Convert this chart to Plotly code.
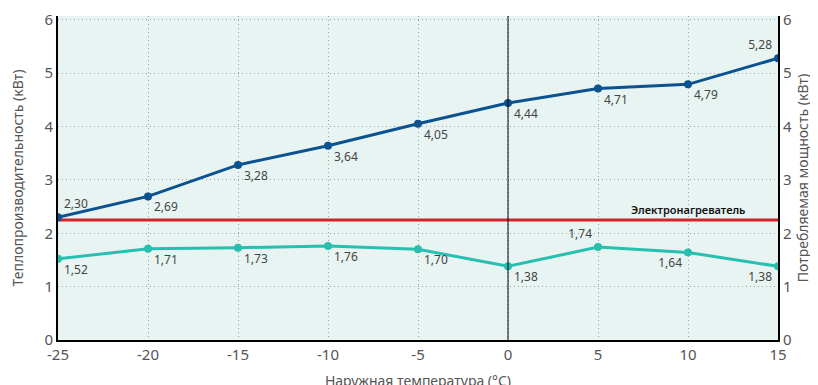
import plotly.graph_objects as go

# Данные
temps = [-25, -20, -15, -10, -5, 0, 5, 10, 15]
temp_labels = ['-25', '-20', '-15', '-10', '-5', '0', '5', '10', '15']
heat_output = [2.30, 2.69, 3.28, 3.64, 4.05, 4.44, 4.71, 4.79, 5.28]
power_input = [1.52, 1.71, 1.73, 1.76, 1.70, 1.38, 1.74, 1.64, 1.38]
heater_level = 2.25

heat_pos = ['top right'] + ['bottom right'] * 7 + ['top left']
power_pos = ['bottom right'] * 6 + ['top left', 'bottom left', 'bottom left']

BLUE = '#0b5290'
TEAL = '#26bfb0'
RED = '#d0232b'
FONT = 'Noto Sans'
GRID = dict(showgrid=True, gridcolor='#a0a0a0', griddash='1px,3px', gridwidth=1)


def fmt(vals):
    return [f'{v:.2f}'.replace('.', ',') for v in vals]


fig = go.Figure()

fig.add_trace(go.Scatter(
    x=[temps[0], temps[-1]], y=[heater_level, heater_level], mode='lines',
    line=dict(color=RED, width=3), hoverinfo='skip', showlegend=False
))
fig.add_trace(go.Scatter(
    x=temps, y=heat_output, mode='lines+markers+text',
    line=dict(color=BLUE, width=3), marker=dict(size=8, color=BLUE),
    text=fmt(heat_output), textposition=heat_pos,
    textfont=dict(size=12, color='#444', family=FONT), showlegend=False
))
fig.add_trace(go.Scatter(
    x=temps, y=power_input, mode='lines+markers+text', yaxis='y2',
    line=dict(color=TEAL, width=3), marker=dict(size=8, color=TEAL),
    text=fmt(power_input), textposition=power_pos,
    textfont=dict(size=12, color='#444', family=FONT), showlegend=False
))

# вертикальная линия 0 °C
fig.add_shape(type='line', x0=0, x1=0, y0=0, y1=1, yref='paper',
              line=dict(color='black', width=1))

fig.add_annotation(x=13.3, y=heater_level, text='Электронагреватель',
                   showarrow=False, xanchor='right', yanchor='bottom', yshift=1,
                   font=dict(size=11, color='#111', family=FONT, weight=600))

axis_common = dict(
    range=[0, 6.07], tickvals=[0, 1, 2, 3, 4, 5, 6],
    showline=True, linecolor='black', linewidth=2,
    tickfont=dict(size=15, color='#555', family=FONT),
    title_font=dict(size=14, color='#555', family=FONT),
    zeroline=False, fixedrange=True, automargin=False,
)

fig.update_layout(
    width=818, height=385,
    margin=dict(l=50, r=48, t=8, b=53),
    plot_bgcolor='#e8f4f2', paper_bgcolor='white',
    font=dict(family=FONT),
    xaxis=dict(
        range=[-25, 15], tickvals=temps, ticktext=temp_labels,
        showline=True, linecolor='black', linewidth=2, **GRID,
        tickfont=dict(size=15, color='#555', family=FONT),
        title=dict(text='Наружная температура (°C)', standoff=13,
                   font=dict(size=14, color='#555', family=FONT)),
        zeroline=False, automargin=False,
    ),
    yaxis=dict(
        **axis_common, **GRID,
        title=dict(text='Теплопроизводительность (кВт)', standoff=19),
    ),
    yaxis2=dict(
        **axis_common,
        overlaying='y', side='right', showgrid=False,
        title=dict(text='Потребляемая мощность (кВт)', standoff=7),
    ),
)

fig.write_html("out.html")
